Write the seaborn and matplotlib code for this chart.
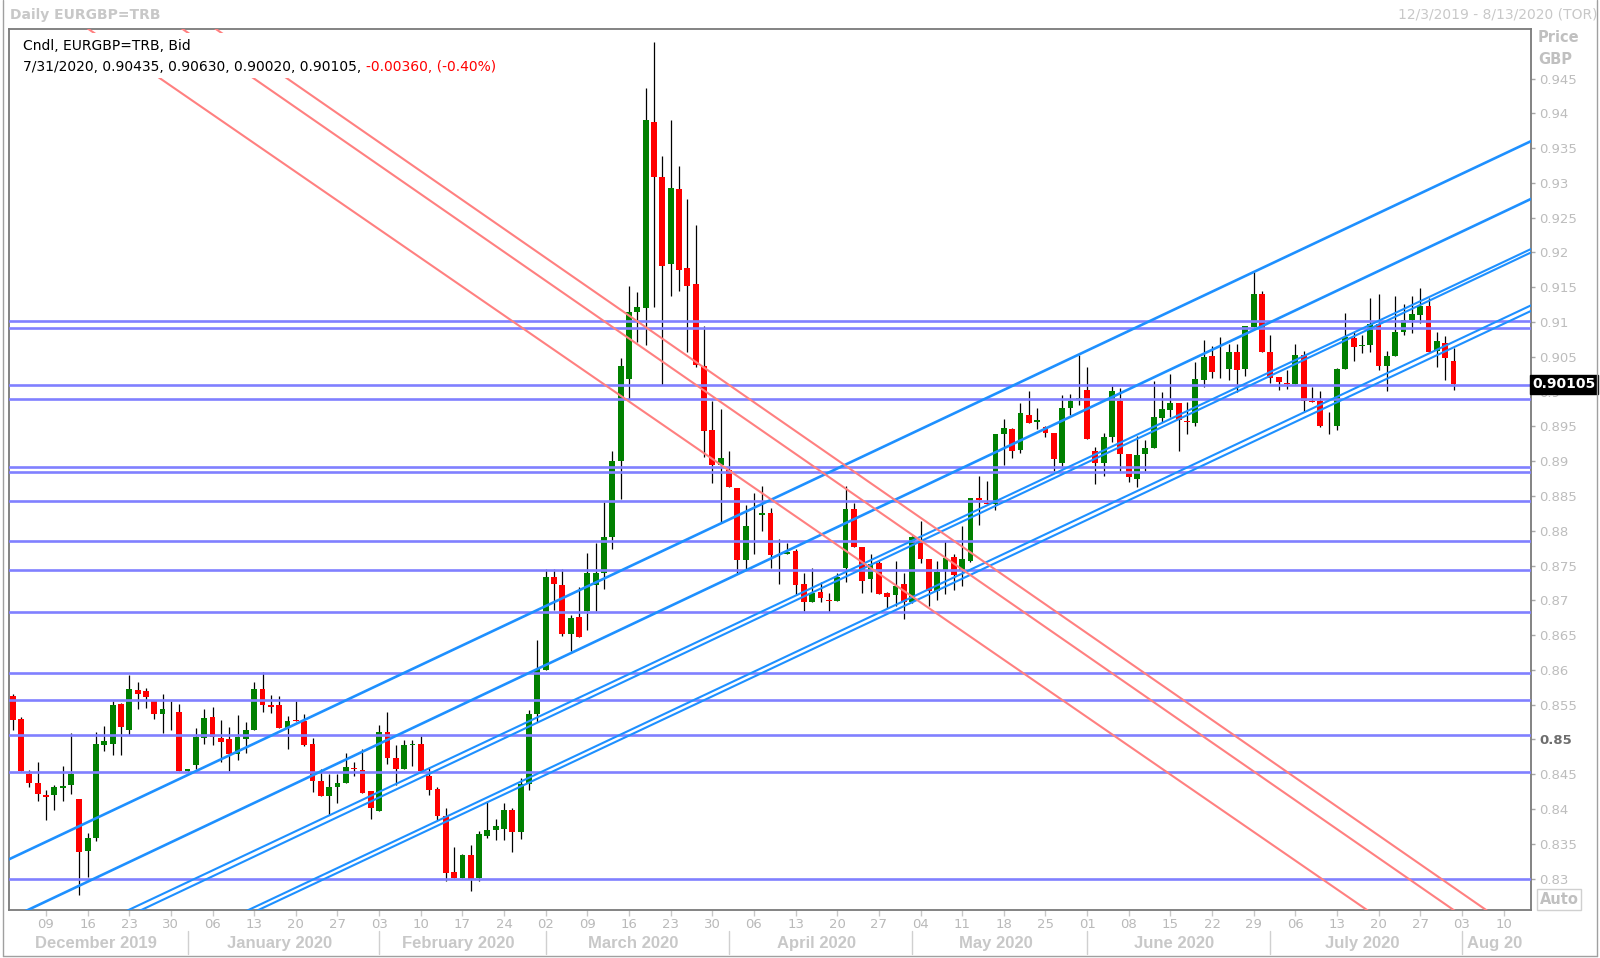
import numpy as np
import pandas as pd
import seaborn as sns
import matplotlib.pyplot as plt
import matplotlib.transforms as mtransforms
from matplotlib import font_manager
from matplotlib.patches import Rectangle
from matplotlib.lines import Line2D

# daily EURGBP candles, 3 Dec 2019 -> 31 Jul 2020
opens = [
    # Dec 2019
    0.8563, 0.8530, 0.8451, 0.8438, 0.8420, 0.8420, 0.8430, 0.8434, 0.8415, 0.8339,
    0.8358, 0.8492, 0.8494, 0.8551, 0.8513, 0.8571, 0.8569, 0.8555, 0.8537, 0.8544, 0.8540,
    # Jan 2020
    0.8455, 0.8463, 0.8502, 0.8533, 0.8502, 0.8501, 0.8479, 0.8501, 0.8513, 0.8572,
    0.8550, 0.8550, 0.8516, 0.8528, 0.8527, 0.8493, 0.8440, 0.8419, 0.8431, 0.8438,
    0.8459, 0.8456, 0.8426,
    # Feb 2020
    0.8397, 0.8511, 0.8474, 0.8458, 0.8492, 0.8494, 0.8447, 0.8429, 0.8390, 0.8309,
    0.8301, 0.8334, 0.8301, 0.8361, 0.8370, 0.8372, 0.8398, 0.8367, 0.8436, 0.8536,
    # Mar 2020
    0.8600, 0.8733, 0.8722, 0.8652, 0.8676, 0.8684, 0.8722, 0.8740, 0.8791, 0.8900,
    0.9018, 0.9114, 0.9120, 0.9387, 0.9308, 0.9183, 0.9291, 0.9177, 0.9155, 0.9037,
    0.8945, 0.8895,
    # Apr 2020
    0.8888, 0.8862, 0.8758, 0.8822, 0.8822, 0.8825, 0.8766, 0.8766, 0.8771, 0.8723,
    0.8697, 0.8712, 0.8700, 0.8699, 0.8746, 0.8831, 0.8776, 0.8730, 0.8754, 0.8710,
    0.8707, 0.8723,
    # May 2020
    0.8698, 0.8783, 0.8760, 0.8714, 0.8744, 0.8762, 0.8744, 0.8757, 0.8847, 0.8840,
    0.8838, 0.8939, 0.8946, 0.8916, 0.8967, 0.8956, 0.8949, 0.8940, 0.8898, 0.8976,
    0.8989,
    # Jun 2020
    0.9003, 0.8914, 0.8898, 0.8935, 0.8986, 0.8911, 0.8874, 0.8910, 0.8919, 0.8962,
    0.8974, 0.8983, 0.8958, 0.8955, 0.9016, 0.9051, 0.9034, 0.9033, 0.9057, 0.9032,
    0.9093, 0.9141,
    # Jul 2020
    0.9057, 0.9021, 0.9013, 0.9011, 0.9053, 0.8987, 0.8986, 0.8950, 0.8950, 0.9033,
    0.9077, 0.9065, 0.9067, 0.9097, 0.9037, 0.9051, 0.9086, 0.9103, 0.9110, 0.9123,
    0.9059, 0.9070, 0.90435,
]
highs = [
    0.8566, 0.8532, 0.8456, 0.8468, 0.8428, 0.8434, 0.8462, 0.8510, 0.8415, 0.8366,
    0.8511, 0.8519, 0.8555, 0.8552, 0.8592, 0.8582, 0.8574, 0.8555, 0.8565, 0.8555, 0.8551,
    0.8458, 0.8516, 0.8544, 0.8546, 0.8528, 0.8518, 0.8535, 0.8525, 0.8583, 0.8597,
    0.8564, 0.8563, 0.8534, 0.8555, 0.8537, 0.8502, 0.8458, 0.8451, 0.8451, 0.8480,
    0.8468, 0.8487, 0.8426,
    0.8521, 0.8539, 0.8492, 0.8499, 0.8499, 0.8505, 0.8460, 0.8431, 0.8402, 0.8346,
    0.8336, 0.8348, 0.8368, 0.8412, 0.8385, 0.8408, 0.8402, 0.8444, 0.8543, 0.8643,
    0.8745, 0.8745, 0.8745, 0.8679, 0.8719, 0.8768, 0.8783, 0.8842, 0.8915, 0.9049,
    0.9152, 0.9143, 0.9436, 0.9502, 0.9338, 0.9390, 0.9325, 0.9277, 0.9240, 0.9094,
    0.8987, 0.8975,
    0.8915, 0.8862, 0.8837, 0.8855, 0.8865, 0.8833, 0.8788, 0.8783, 0.8774, 0.8740,
    0.8746, 0.8727, 0.8710, 0.8740, 0.8865, 0.8840, 0.8777, 0.8766, 0.8756, 0.8712,
    0.8756, 0.8739,
    0.8793, 0.8814, 0.8760, 0.8756, 0.8785, 0.8767, 0.8807, 0.8847, 0.8879, 0.8871,
    0.8939, 0.8961, 0.8948, 0.8984, 0.9001, 0.8976, 0.8951, 0.8940, 0.8995, 0.8996,
    0.9053,
    0.9036, 0.8921, 0.8940, 0.9008, 0.9005, 0.8911, 0.8936, 0.8930, 0.9015, 0.8999,
    0.9026, 0.8983, 0.8985, 0.9043, 0.9074, 0.9065, 0.9079, 0.9068, 0.9068, 0.9094,
    0.9172, 0.9145,
    0.9081, 0.9021, 0.9031, 0.9069, 0.9058, 0.9007, 0.9001, 0.8971, 0.9034, 0.9113,
    0.9086, 0.9081, 0.9135, 0.9140, 0.9059, 0.9138, 0.9126, 0.9138, 0.9149, 0.9134,
    0.9086, 0.9080, 0.90630,
]
lows = [
    0.8513, 0.8454, 0.8431, 0.8412, 0.8384, 0.8398, 0.8412, 0.8421, 0.8276, 0.8303,
    0.8354, 0.8483, 0.8477, 0.8477, 0.8507, 0.8544, 0.8545, 0.8530, 0.8510, 0.8513, 0.8455,
    0.8453, 0.8458, 0.8494, 0.8492, 0.8467, 0.8455, 0.8471, 0.8480, 0.8513, 0.8540,
    0.8538, 0.8517, 0.8487, 0.8526, 0.8491, 0.8425, 0.8419, 0.8391, 0.8409, 0.8438,
    0.8447, 0.8423, 0.8386,
    0.8397, 0.8465, 0.8435, 0.8458, 0.8462, 0.8455, 0.8420, 0.8384, 0.8296, 0.8301,
    0.8301, 0.8282, 0.8296, 0.8359, 0.8355, 0.8355, 0.8338, 0.8357, 0.8428, 0.8525,
    0.8600, 0.8686, 0.8649, 0.8627, 0.8648, 0.8657, 0.8684, 0.8716, 0.8774, 0.8845,
    0.8989, 0.9072, 0.9067, 0.9122, 0.9010, 0.9137, 0.9145, 0.9057, 0.9035, 0.8906,
    0.8868, 0.8813,
    0.8863, 0.8738, 0.8745, 0.8766, 0.8799, 0.8746, 0.8724, 0.8766, 0.8708, 0.8684,
    0.8697, 0.8697, 0.8683, 0.8699, 0.8726, 0.8776, 0.8710, 0.8712, 0.8709, 0.8689,
    0.8692, 0.8673,
    0.8696, 0.8753, 0.8692, 0.8700, 0.8709, 0.8715, 0.8720, 0.8755, 0.8808, 0.8838,
    0.8830, 0.8894, 0.8904, 0.8912, 0.8955, 0.8946, 0.8935, 0.8886, 0.8893, 0.8966,
    0.8981,
    0.8932, 0.8867, 0.8879, 0.8927, 0.8886, 0.8870, 0.8863, 0.8886, 0.8919, 0.8957,
    0.8964, 0.8914, 0.8939, 0.8950, 0.9007, 0.9020, 0.9019, 0.9017, 0.9000, 0.9022,
    0.9093, 0.9057,
    0.9013, 0.9003, 0.9004, 0.9011, 0.8971, 0.8985, 0.8949, 0.8939, 0.8945, 0.9032,
    0.9044, 0.9056, 0.9057, 0.9031, 0.9001, 0.9051, 0.9081, 0.9084, 0.9098, 0.9057,
    0.9036, 0.9017, 0.90020,
]
closes = [
    0.8528, 0.8455, 0.8438, 0.8421, 0.8418, 0.8431, 0.8433, 0.8451, 0.8338, 0.8358,
    0.8494, 0.8498, 0.8549, 0.8518, 0.8573, 0.8565, 0.8561, 0.8536, 0.8544, 0.8544, 0.8455,
    0.8457, 0.8504, 0.8531, 0.8503, 0.8497, 0.8479, 0.8503, 0.8514, 0.8572, 0.8549,
    0.8547, 0.8517, 0.8527, 0.8527, 0.8492, 0.8440, 0.8419, 0.8432, 0.8438, 0.8461,
    0.8458, 0.8423, 0.8402,
    0.8511, 0.8473, 0.8458, 0.8492, 0.8494, 0.8455, 0.8428, 0.8390, 0.8308, 0.8301,
    0.8334, 0.8300, 0.8364, 0.8370, 0.8375, 0.8398, 0.8367, 0.8436, 0.8536, 0.8602,
    0.8733, 0.8724, 0.8651, 0.8675, 0.8648, 0.8740, 0.8739, 0.8791, 0.8900, 0.9037,
    0.9114, 0.9122, 0.9390, 0.9308, 0.9180, 0.9293, 0.9175, 0.9152, 0.9038, 0.8943,
    0.8895, 0.8905,
    0.8863, 0.8758, 0.8807, 0.8823, 0.8825, 0.8765, 0.8767, 0.8770, 0.8722, 0.8697,
    0.8710, 0.8704, 0.8699, 0.8734, 0.8831, 0.8776, 0.8728, 0.8752, 0.8709, 0.8705,
    0.8721, 0.8698,
    0.8791, 0.8760, 0.8714, 0.8741, 0.8761, 0.8737, 0.8759, 0.8847, 0.8844, 0.8838,
    0.8939, 0.8948, 0.8915, 0.8969, 0.8955, 0.8959, 0.8941, 0.8903, 0.8977, 0.8986,
    0.8991,
    0.8932, 0.8898, 0.8935, 0.9001, 0.8910, 0.8878, 0.8909, 0.8919, 0.8963, 0.8975,
    0.8983, 0.8959, 0.8956, 0.9018, 0.9050, 0.9028, 0.9034, 0.9057, 0.9031, 0.9094,
    0.9141, 0.9057,
    0.9019, 0.9014, 0.9011, 0.9053, 0.8986, 0.8985, 0.8950, 0.8951, 0.9033, 0.9079,
    0.9064, 0.9067, 0.9097, 0.9037, 0.9051, 0.9085, 0.9103, 0.9112, 0.9123, 0.9057,
    0.9073, 0.9048, 0.90105,
]

# horizontal support / resistance levels
levels = [0.9101, 0.9091, 0.9009, 0.8989, 0.8891, 0.8884, 0.8843, 0.8786,
          0.8743, 0.8683, 0.8595, 0.8557, 0.8507, 0.8453, 0.8300]

# drawn trend lines: name, bar index / price of two anchor points
blue_lines = [
    ("b1", -0.4, 0.8328, 182.3, 0.9360),
    ("b2", 22.5, 0.8372, 182.3, 0.9277),
    ("b3a", 45.3, 0.8432, 182.3, 0.9205),
    ("b3b", 45.3, 0.8424, 182.3, 0.9200),
    ("b4a", 28.5, 0.8256, 182.3, 0.9124),
    ("b4b", 29.7, 0.8256, 182.3, 0.9116),
]
red_lines = [
    ("r1", 9.0, 0.9522, 162.6, 0.8255),
    ("r2", 20.3, 0.9522, 173.0, 0.8255),
    ("r3", 24.3, 0.9522, 176.9, 0.8255),
]

month_names = ["December 2019", "January 2020", "February 2020", "March 2020",
               "April 2020", "May 2020", "June 2020", "July 2020", "Aug 20"]

axis_days = pd.bdate_range("2019-12-03", "2020-08-13")
df = pd.DataFrame({"date": axis_days[:len(opens)], "open": opens, "high": highs,
                   "low": lows, "close": closes})
df["x"] = np.arange(len(df))

sns.set_theme(style="white")
plt.rcParams["font.family"] = ["DejaVu Sans"]
names = {f.name for f in font_manager.fontManager.ttflist}
if "Liberation Sans Narrow" in names:
    narrow, nsize = "Liberation Sans Narrow", 12.5
else:
    narrow, nsize = "DejaVu Sans", 9.5

W, H = 1600, 958
fig = plt.figure(figsize=(W / 100, H / 100), dpi=100)
ax = fig.add_axes([8.5 / W, 1 - 910 / H, 1522.5 / W, 881.4 / H])
xmin, xmax = -0.5, 182.3
ymin, ymax = 0.82549, 0.95218

# candles
ax.vlines(df["x"], df["low"], df["high"], color="black", lw=0.9, zorder=2)
body = (df["close"] - df["open"]).abs().clip(lower=0.00005)
colors = np.where(df["close"] > df["open"], "#008000",
                  np.where(df["close"] < df["open"], "#ff0000", "#000000"))
ax.bar(df["x"], body, bottom=df[["open", "close"]].min(axis=1), width=0.7,
       color=colors, lw=0, zorder=3)

for p in levels:
    ax.axhline(p, color="#8080ff", lw=1.9, zorder=4)

# trend lines, extended to the axis edges
rows = []
for kind, group in (("blue", blue_lines), ("red", red_lines)):
    for name, x0, y0, x1, y1 in group:
        k = (y1 - y0) / (x1 - x0)
        for xx in (xmin, xmax):
            rows.append((kind, name, xx, y0 + k * (xx - x0)))
tl = pd.DataFrame(rows, columns=["kind", "name", "x", "y"])
single = tl[tl["name"].isin(["b1", "b2"])]
pairs = tl[(tl["kind"] == "blue") & ~tl["name"].isin(["b1", "b2"])]
sns.lineplot(data=single, x="x", y="y", units="name", estimator=None,
             color="#1e90ff", lw=1.9, ax=ax, zorder=5, legend=False)
sns.lineplot(data=pairs, x="x", y="y", units="name", estimator=None,
             color="#1e90ff", lw=1.5, ax=ax, zorder=5, legend=False)
sns.lineplot(data=tl[tl["kind"] == "red"], x="x", y="y", units="name",
             estimator=None, color="#ff8080", lw=1.5, ax=ax, zorder=5, legend=False)

ax.set_xlim(xmin, xmax)
ax.set_ylim(ymin, ymax)
ax.set_xlabel("")
ax.set_ylabel("")
for s in ax.spines.values():
    s.set_color("#7a7a7a")
    s.set_linewidth(1.3)

# right price axis
ax.yaxis.tick_right()
yt = np.round(np.arange(0.83, 0.9451, 0.005), 3)
ax.set_yticks(yt)
ax.set_yticklabels([f"{v:.3f}".rstrip("0") for v in yt])
ax.tick_params(axis="y", right=True, left=False, length=3, width=1, color="#a8a8a8",
               labelcolor="#bdbdbd", pad=3)
for lab in ax.get_yticklabels():
    lab.set_fontfamily(narrow)
    lab.set_fontsize(nsize)
    if lab.get_text() == "0.85":
        lab.set_fontweight("bold")
        lab.set_color("#6e6e6e")

# bottom date axis
mondays = [i for i, d in enumerate(axis_days) if d.weekday() == 0]
ax.set_xticks(mondays)
ax.set_xticklabels([axis_days[i].strftime("%d") for i in mondays])
ax.tick_params(axis="x", bottom=True, length=4, width=1, color="#c8c8c8",
               labelcolor="#b9b9b9", pad=2)
for lab in ax.get_xticklabels():
    lab.set_fontfamily(narrow)
    lab.set_fontsize(nsize)

trans = mtransforms.blended_transform_factory(ax.transData, ax.transAxes)
periods = axis_days.to_period("M")
for j, per in enumerate(periods.unique()):
    idx = np.where(periods == per)[0]
    lo = max(idx.min() - 0.5, xmin)
    hi = min(idx.max() + 0.5, xmax)
    ax.text((lo + hi) / 2, -0.0385, month_names[j], transform=trans, ha="center",
            va="center", fontsize=12, fontweight="bold", color="#c8c8c8",
            fontfamily="Liberation Sans")
    if j > 0:
        ax.plot([idx.min(), idx.min()], [-0.0238, -0.05], transform=trans,
                color="#d0d0d0", lw=1, clip_on=False)

# current price tag
ptrans = mtransforms.blended_transform_factory(ax.transAxes, ax.transData)
ax.text(1.001, closes[-1], f"{closes[-1]:.5f}", transform=ptrans, ha="left",
        va="center", color="white", fontweight="bold", fontsize=10,
        bbox=dict(boxstyle="square,pad=0.18", fc="black", ec="black"), zorder=12)

# legend-style info box
ax.add_patch(Rectangle((14 / W, 1 - 78 / H), 496 / W, 45 / H, transform=fig.transFigure,
                       facecolor="white", edgecolor="none", zorder=10, clip_on=False))
ax.text(23 / W, 1 - 46 / H, "Cndl, EURGBP=TRB, Bid", transform=fig.transFigure,
        fontsize=10, color="black", va="center", zorder=11)
t2 = ax.text(23 / W, 1 - 67 / H, "7/31/2020, 0.90435, 0.90630, 0.90020, 0.90105, ",
             transform=fig.transFigure, fontsize=10, color="black", va="center", zorder=11)
ax.annotate("-0.00360, (-0.40%)", xy=(1, 0), xycoords=t2, ha="left", va="bottom",
            fontsize=10, color="#ff0000", zorder=11, annotation_clip=False)

# header and right panel texts
fig.text(10 / W, 1 - 15 / H, "Daily EURGBP=TRB", fontsize=10, fontweight="bold",
         color="#c8c8c8", va="center")
fig.text(1597 / W, 1 - 15 / H, "12/3/2019 - 8/13/2020 (TOR)", fontsize=10,
         color="#c8c8c8", va="center", ha="right")
fig.text(1538 / W, 1 - 38 / H, "Price", fontsize=10.5, fontweight="bold",
         color="#c0c0c0", va="center")
fig.text(1538 / W, 1 - 59 / H, "GBP", fontsize=10.5, fontweight="bold",
         color="#c0c0c0", va="center")
fig.add_artist(Rectangle((1537 / W, 1 - 910 / H), 44 / W, 21 / H, transform=fig.transFigure,
                         facecolor="white", edgecolor="#d0d0d0", lw=1))
fig.text(1559 / W, 1 - 899.5 / H, "Auto", fontsize=10.5, fontweight="bold",
         color="#c0c0c0", va="center", ha="center")

# outer window border
for xs, ys in (([3, 3], [0, 956]), ([1597, 1597], [0, 956]), ([3, 1597], [956, 956])):
    fig.add_artist(Line2D([v / W for v in xs], [1 - v / H for v in ys],
                          transform=fig.transFigure, color="#a0a0a0", lw=1))

fig.savefig("out.png", dpi=100)
